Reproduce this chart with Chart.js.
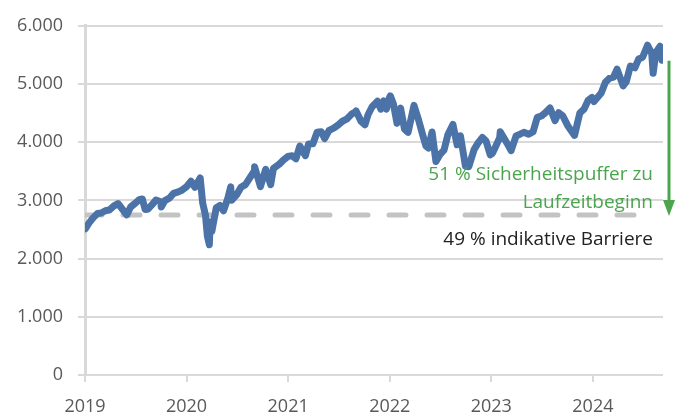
<!DOCTYPE html>
<html>
<head>
<meta charset="utf-8">
<script src="https://cdn.jsdelivr.net/npm/chart.js@4/dist/chart.umd.min.js"></script>
<style>
  html, body { margin: 0; padding: 0; background: #fff; }
  #wrap { width: 686px; height: 417px; }
</style>
</head>
<body>
<div id="wrap"><canvas id="chart" width="686" height="417"></canvas></div>
<script>
// index level (dates with value)
const dates = [
  '2019-01-02','2019-01-15','2019-01-31','2019-02-15','2019-02-28','2019-03-15','2019-03-29','2019-04-15','2019-04-30','2019-05-15','2019-05-31','2019-06-14','2019-06-28','2019-07-15','2019-07-26','2019-08-05','2019-08-15','2019-08-30','2019-09-13','2019-09-30','2019-10-02','2019-10-15','2019-10-31','2019-11-15','2019-11-29','2019-12-13','2019-12-31',
  '2020-01-17','2020-01-31','2020-02-19','2020-02-28','2020-03-09','2020-03-16','2020-03-23','2020-03-26','2020-04-01','2020-04-17','2020-04-30','2020-05-13','2020-05-29','2020-06-08','2020-06-11','2020-06-30','2020-07-15','2020-07-31','2020-08-14','2020-08-31','2020-09-02','2020-09-23','2020-10-12','2020-10-30','2020-11-09','2020-11-30','2020-12-15','2020-12-31',
  '2021-01-15','2021-01-29','2021-02-12','2021-03-04','2021-03-15','2021-03-31','2021-04-15','2021-04-30','2021-05-12','2021-05-28','2021-06-15','2021-06-30','2021-07-15','2021-07-30','2021-08-16','2021-08-31','2021-09-02','2021-09-20','2021-10-04','2021-10-15','2021-10-29','2021-11-18','2021-11-30','2021-12-10','2021-12-20','2021-12-31',
  '2022-01-03','2022-01-14','2022-01-27','2022-02-09','2022-02-23','2022-03-08','2022-03-29','2022-04-14','2022-04-29','2022-05-11','2022-05-20','2022-06-02','2022-06-16','2022-06-30','2022-07-15','2022-07-29','2022-08-16','2022-08-31','2022-09-12','2022-09-30','2022-10-12','2022-10-31','2022-11-15','2022-11-30','2022-12-13','2022-12-28',
  '2023-01-05','2023-01-31','2023-02-02','2023-02-28','2023-03-13','2023-03-31','2023-04-14','2023-04-28','2023-05-15','2023-05-31','2023-06-15','2023-06-30','2023-07-14','2023-07-31','2023-08-18','2023-08-31','2023-09-15','2023-10-02','2023-10-27','2023-11-15','2023-11-30','2023-12-15','2023-12-29',
  '2024-01-05','2024-01-31','2024-02-15','2024-02-29','2024-03-15','2024-03-28','2024-04-19','2024-04-30','2024-05-15','2024-05-31','2024-06-14','2024-06-28','2024-07-16','2024-07-31','2024-08-05','2024-08-15','2024-08-30','2024-09-06','2024-09-10'
];
const values = [
  2510,2610,2704,2775,2784,2822,2834,2905,2945,2850,2752,2886,2942,3014,3025,2845,2848,2926,3007,2977,2887,2996,3038,3120,3141,3169,3231,
  3330,3226,3386,2954,2747,2386,2237,2630,2470,2875,2912,2820,3044,3232,3002,3100,3227,3271,3373,3500,3580,3237,3534,3270,3550,3622,3695,3756,
  3768,3714,3934,3768,3968,3973,4170,4181,4063,4204,4246,4298,4360,4395,4479,4523,4537,4358,4300,4471,4605,4704,4567,4712,4568,4766,
  4796,4662,4326,4587,4225,4170,4632,4392,4132,3935,3901,4176,3667,3785,3863,4130,4305,3955,4110,3586,3577,3872,3992,4080,4019,3783,
  3808,4077,4179,3970,3855,4109,4138,4169,4136,4180,4426,4450,4505,4589,4370,4508,4450,4288,4117,4502,4568,4719,4770,
  4697,4846,5030,5096,5117,5254,4967,5035,5308,5278,5431,5460,5667,5522,5186,5543,5648,5408,5525
];

const barrierLevel = 2750;
const startLevel = 5400;
const barrierRange = ['2019-01-01', '2024-07-10'];
const yTicks = [0, 1000, 2000, 3000, 4000, 5000, 6000];
const xTicks = [2019, 2020, 2021, 2022, 2023, 2024];
const bufferLabel = ['51 % Sicherheitspuffer zu', 'Laufzeitbeginn'];
const barrierLabel = '49 % indikative Barriere';

function toYear(d) {
  const [y, m, day] = d.split('-').map(Number);
  const start = Date.UTC(y, 0, 1);
  const end = Date.UTC(y + 1, 0, 1);
  return y + (Date.UTC(y, m - 1, day) - start) / (end - start);
}

function fmt(v) {
  return String(v).replace(/\B(?=(\d{3})+(?!\d))/g, '.');
}

const grey = '#d9d9d9';
const tickColor = '#595959';
const green = '#4aa54e';

const annotations = {
  id: 'annotations',
  afterDatasetsDraw(chart) {
    const { ctx, chartArea, scales } = chart;
    const yb = scales.y.getPixelForValue(barrierLevel);
    const ys = scales.y.getPixelForValue(startLevel);
    const ax = chartArea.right + 6;
    ctx.save();
    // arrow
    ctx.strokeStyle = green;
    ctx.fillStyle = green;
    ctx.lineWidth = 3;
    ctx.beginPath();
    ctx.moveTo(ax, ys);
    ctx.lineTo(ax, yb - 12);
    ctx.stroke();
    ctx.beginPath();
    ctx.moveTo(ax - 6, yb - 15);
    ctx.lineTo(ax + 6, yb - 15);
    ctx.lineTo(ax, yb + 1);
    ctx.closePath();
    ctx.fill();
    // texts
    const tx = chartArea.right - 10;
    ctx.font = '19px "Open Sans"';
    ctx.textAlign = 'right';
    ctx.textBaseline = 'middle';
    ctx.fillStyle = green;
    ctx.fillText(bufferLabel[0], tx, yb - 40);
    ctx.fillText(bufferLabel[1], tx, yb - 12);
    ctx.fillStyle = '#222222';
    ctx.fillText(barrierLabel, tx, yb + 25);
    ctx.restore();
  }
};

new Chart(document.getElementById('chart'), {
  type: 'line',
  data: {
    datasets: [
      {
        label: 'Barriere',
        data: barrierRange.map((d) => ({ x: toYear(d), y: barrierLevel })),
        borderColor: '#c3c3c3',
        borderWidth: 5,
        borderDash: [17, 21],
        borderCapStyle: 'round',
        pointRadius: 0,
        order: 2
      },
      {
        label: 'Index',
        data: dates.map((d, i) => ({ x: toYear(d), y: values[i] })),
        borderColor: '#4b73a8',
        borderWidth: 7,
        borderJoinStyle: 'round',
        borderCapStyle: 'round',
        pointRadius: 0,
        tension: 0,
        order: 1
      }
    ]
  },
  options: {
    responsive: false,
    animation: false,
    layout: { padding: { top: 22, right: 23, left: 0, bottom: 0 } },
    plugins: { legend: { display: false }, tooltip: { enabled: false } },
    scales: {
      x: {
        type: 'linear',
        min: 2019,
        max: 2024.69,
        afterBuildTicks(scale) { scale.ticks = xTicks.map((v) => ({ value: v })); },
        afterFit(scale) { scale.height = 42; },
        ticks: {
          color: tickColor,
          font: { family: 'Open Sans', size: 18 },
          padding: 14,
          maxRotation: 0,
          callback: (v) => String(v)
        },
        grid: { drawOnChartArea: false, drawTicks: true, tickLength: 7, color: grey, lineWidth: 2 },
        border: { display: false }
      },
      y: {
        min: 0,
        max: 6000,
        afterBuildTicks(scale) { scale.ticks = yTicks.map((v) => ({ value: v })); },
        afterFit(scale) { scale.width = 85; },
        ticks: {
          color: tickColor,
          font: { family: 'Open Sans', size: 18 },
          padding: 15,
          callback: (v) => fmt(v)
        },
        grid: { color: grey, lineWidth: 2, tickLength: 7 },
        border: { display: true, color: grey, width: 3 }
      }
    }
  },
  plugins: [annotations]
});
</script>
</body>
</html>
